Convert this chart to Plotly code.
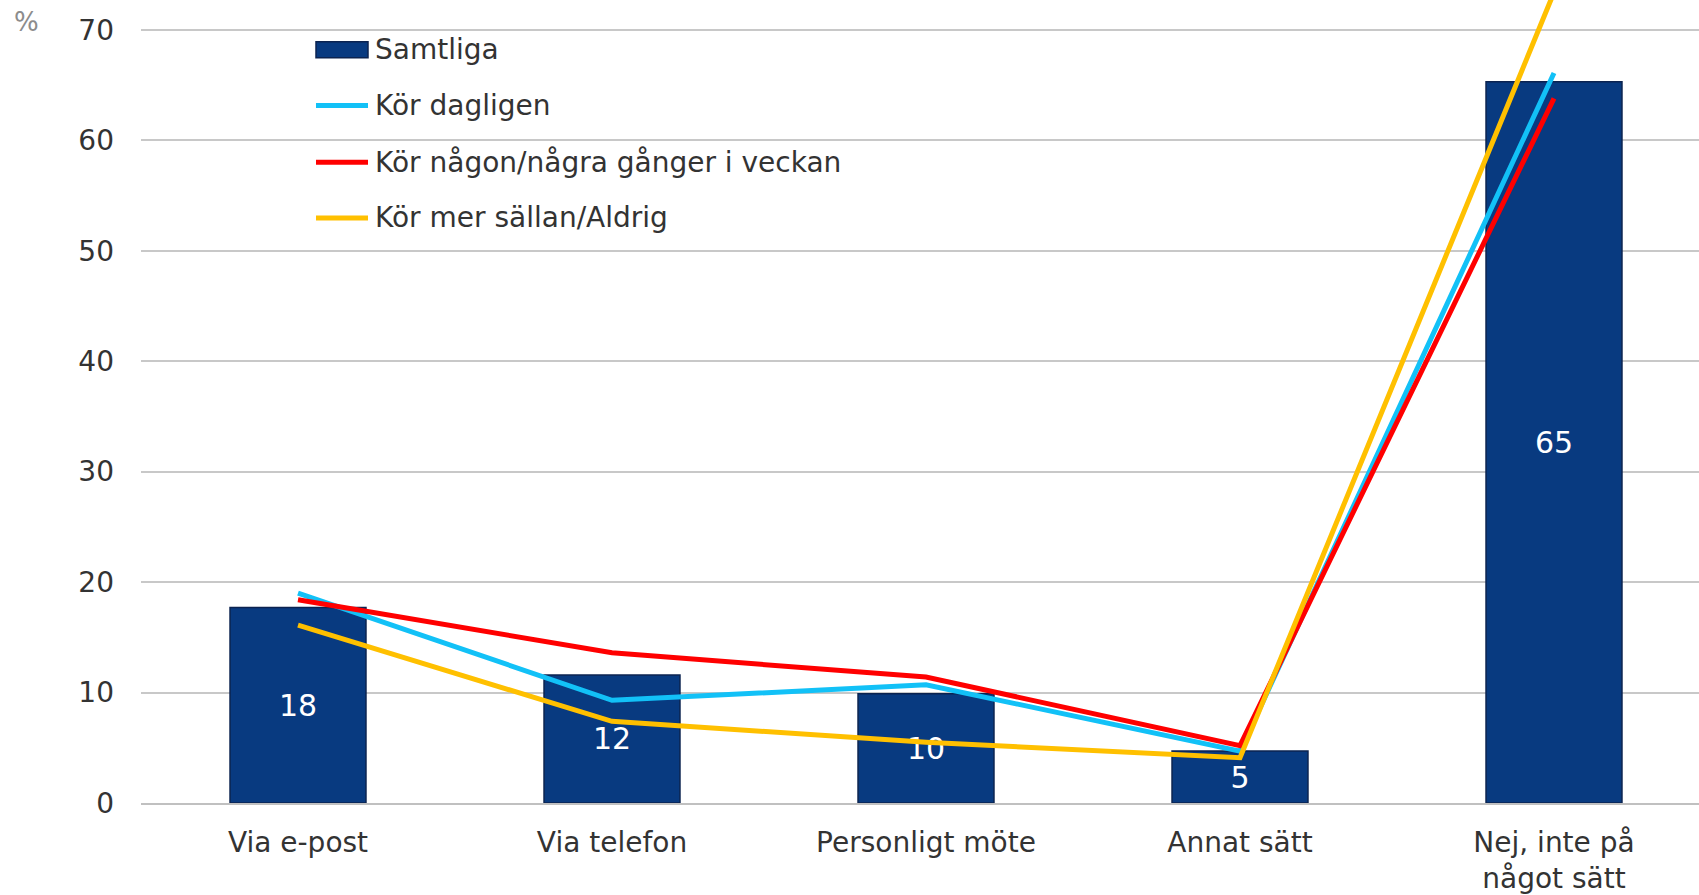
import plotly.graph_objects as go

categories = ["Via e-post", "Via telefon", "Personligt möte", "Annat sätt", "Nej, inte på<br>något sätt"]
samtliga = [17.7, 11.6, 9.9, 4.7, 65.3]
kor_dagligen = [19.0, 9.3, 10.7, 4.7, 66.1]
kor_nagon = [18.4, 13.6, 11.4, 5.2, 63.8]
kor_sallan = [16.1, 7.4, 5.5, 4.1, 73.4]
y_ticks = [0, 10, 20, 30, 40, 50, 60, 70]

legend_names = ["Samtliga", "Kör dagligen", "Kör någon/några gånger i veckan", "Kör mer sällan/Aldrig"]
line_colors = ["#12c1f7", "#ff0000", "#ffc000"]
bar_color = "#083a80"

FONT = "DejaVu Sans"
x_idx = list(range(len(categories)))

fig = go.Figure()
fig.add_trace(go.Bar(
    x=x_idx, y=samtliga, width=0.433,
    marker=dict(color=bar_color, line=dict(color="#0b2350", width=1.5)),
    texttemplate="%{y:.0f}", textposition="inside", insidetextanchor="middle",
    textfont=dict(color="white", size=30, family=FONT), constraintext="none",
    showlegend=False, hoverinfo="skip",
))
for vals, col in zip([kor_dagligen, kor_nagon, kor_sallan], line_colors):
    fig.add_trace(go.Scatter(
        x=x_idx, y=vals, mode="lines",
        line=dict(color=col, width=5), showlegend=False, hoverinfo="skip",
    ))

# manual legend
L, W = 141, 1558
H = 807
def px_x(p):
    return (p - L) / W
def px_y(p):
    return (H - p) / H

rows = [50, 106, 163, 219]
shapes = []
annotations = []
shapes.append(dict(type="rect", xref="paper", yref="paper",
                   x0=px_x(316), x1=px_x(368), y0=px_y(rows[0] + 8), y1=px_y(rows[0] - 8),
                   fillcolor=bar_color, line=dict(color="#0b2350", width=1.5)))
for r, col in zip(rows[1:], line_colors):
    shapes.append(dict(type="line", xref="paper", yref="paper",
                       x0=px_x(316), x1=px_x(368), y0=px_y(r), y1=px_y(r),
                       line=dict(color=col, width=5)))
for r, name in zip(rows, legend_names):
    annotations.append(dict(xref="paper", yref="paper", x=px_x(373), y=px_y(r),
                            text=name, showarrow=False, xanchor="left", yanchor="middle",
                            font=dict(size=28, color="#333333", family=FONT)))
annotations.append(dict(xref="paper", yref="paper", x=px_x(12), y=px_y(22),
                        text="%", showarrow=False, xanchor="left", yanchor="middle",
                        font=dict(size=26, color="#8c8c8c", family=FONT)))

fig.update_layout(
    width=1699, height=895,
    margin=dict(l=L, r=0, t=0, b=895 - H),
    paper_bgcolor="white", plot_bgcolor="white",
    font=dict(family=FONT, size=28, color="#333333"),
    shapes=shapes, annotations=annotations,
    xaxis=dict(
        range=[-0.5, -0.5 + W / 314], tickmode="array", tickvals=x_idx, ticktext=categories,
        showgrid=False, showline=True, linecolor="#c0c0c0", linewidth=2,
        ticks="", tickfont=dict(size=28, color="#333333"), ticklabelstandoff=13,
        zeroline=False,
    ),
    yaxis=dict(
        range=[0, H / 11.1], tickmode="array", tickvals=y_ticks,
        showgrid=True, gridcolor="#c8c8c8", gridwidth=2,
        showline=False, zeroline=False, ticks="",
        tickfont=dict(size=28, color="#333333"), ticklabelstandoff=26,
    ),
    bargap=0.5,
)

fig.write_html("out.html", config={"displayModeBar": False},
               post_script="document.body.style.margin='0';document.body.style.overflow='hidden';")
